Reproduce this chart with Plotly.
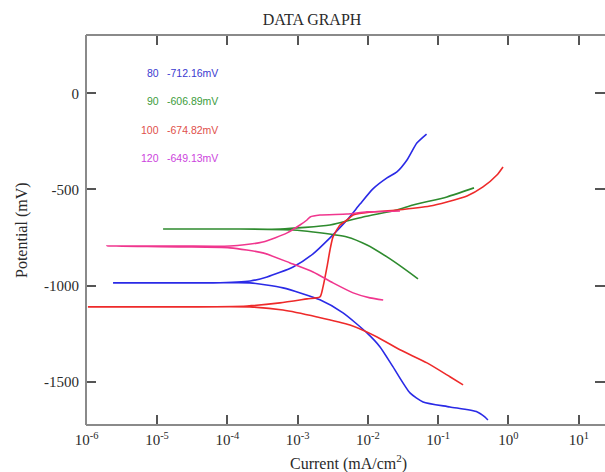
import plotly.graph_objects as go

# Polarization curves: current density (mA/cm^2) vs potential (mV)
cur_80 = [0.51, 0.46, 0.36, 0.147, 0.061, 0.0397, 0.0228, 0.0149, 0.0097, 0.00443, 0.00208,
          0.00062, 0.00021, 6.3e-5, 7.9e-6, 2.37e-6,
          6.3e-5, 0.000212, 0.000368, 0.000863, 0.00166, 0.00289, 0.00505, 0.00773,
          0.0118, 0.0187, 0.0259, 0.036, 0.0497, 0.0683]
pot_80 = [-1699, -1683, -1657, -1631, -1605, -1558, -1423, -1319, -1246, -1142, -1074,
          -1012, -986, -986, -986, -986,
          -986, -976, -955, -903, -835, -752, -659, -576,
          -497, -440, -409, -347, -259, -212]

cur_90 = [0.0516, 0.0316, 0.0187, 0.00973, 0.00505, 0.00166, 0.00086, 0.000151, 1.22e-5,
          0.000151, 0.000564, 0.00289, 0.00851, 0.0259, 0.0439, 0.133, 0.323]
pot_90 = [-965, -908, -851, -789, -747, -721, -711, -706, -706,
          -706, -706, -685, -643, -607, -581, -539, -492]

cur_100 = [0.226, 0.147, 0.0693, 0.0286, 0.0135, 0.00556, 0.00189, 0.00062, 0.00021, 2.12e-5, 1.04e-6,
           2.12e-5, 0.000191, 0.000562, 0.00136, 0.00208, 0.0023, 0.00262, 0.00289, 0.00319,
           0.00402, 0.00505, 0.00617, 0.00855, 0.0259, 0.0764, 0.133, 0.257, 0.434, 0.685, 0.836]
pot_100 = [-1516, -1474, -1402, -1334, -1267, -1205, -1163, -1127, -1111, -1111, -1111,
           -1111, -1106, -1090, -1069, -1059, -1007, -903, -815, -747,
           -685, -659, -633, -622, -607, -586, -565, -534, -487, -425, -383]

cur_120 = [0.0165, 0.0107, 0.00617, 0.00319, 0.00166, 0.00078, 0.00032, 0.000109, 2.12e-5, 1.94e-6,
           2.12e-5, 0.000109, 0.00032, 0.00071, 0.00108, 0.00136, 0.00151, 0.00208, 0.00505,
           0.00973, 0.0286]
pot_120 = [-1075, -1064, -1038, -986, -929, -882, -830, -804, -799, -794,
           -794, -794, -773, -726, -685, -659, -643, -633, -628, -617, -612]

series = [
    ("80", "-712.16mV", cur_80, pot_80, "#2a2ae6", "#3a3ad0"),
    ("90", "-606.89mV", cur_90, pot_90, "#2e8b2e", "#3c9c3c"),
    ("100", "-674.82mV", cur_100, pot_100, "#ee2a2a", "#e0504a"),
    ("120", "-649.13mV", cur_120, pot_120, "#f0368e", "#cc44dd"),
]

x_tick_vals = [1e-6, 1e-5, 1e-4, 1e-3, 1e-2, 1e-1, 1e0, 1e1]
x_tick_text = ["10<sup>-6</sup>", "10<sup>-5</sup>", "10<sup>-4</sup>", "10<sup>-3</sup>",
               "10<sup>-2</sup>", "10<sup>-1</sup>", "10<sup>0</sup>", "10<sup>1</sup>"]
y_tick_vals = [0, -500, -1000, -1500]
y_tick_text = ["0", "-500", "-1000", "-1500"]

serif = "Liberation Serif, Times New Roman, serif"
sans = "Liberation Sans, Arial, sans-serif"
W, H = 605, 472
L, R, T, B = 86, 605, 35, 425
axis_grey = "#8a8a8a"
tick_grey = "#555"
text_dark = "#2a2a2a"

fig = go.Figure()
for name, ecorr, cur, pot, line_col, text_col in series:
    fig.add_trace(go.Scatter(x=cur, y=pot, mode="lines", name=name,
                             line=dict(color=line_col, width=1.6, shape="spline", smoothing=0.6)))

# Legend-style labels: temperature and corrosion potential
row_y = [73, 101, 130, 158]
for (name, ecorr, cur, pot, line_col, text_col), yp in zip(series, row_y):
    py = (B - yp) / (B - T)
    fig.add_annotation(x=(161 - L) / (R - L), y=py, xref="paper", yref="paper",
                       text=name, showarrow=False, xanchor="right", yanchor="middle",
                       font=dict(family=sans, size=10.5, color=text_col))
    fig.add_annotation(x=(165 - L) / (R - L), y=py, xref="paper", yref="paper",
                       text=ecorr, showarrow=False, xanchor="left", yanchor="middle",
                       font=dict(family=sans, size=10.5, color=text_col))

# Axis titles
fig.add_annotation(x=(348 - L) / (R - L), y=-(462 - B) / (B - T), xref="paper", yref="paper",
                   text="Current (mA/cm<sup>2</sup>)", showarrow=False,
                   xanchor="center", yanchor="middle",
                   font=dict(family=serif, size=16, color=text_dark))
fig.add_annotation(x=-(L - 22) / (R - L), y=0.5, xref="paper", yref="paper",
                   text="Potential (mV)", showarrow=False, textangle=-90,
                   xanchor="center", yanchor="middle",
                   font=dict(family=serif, size=16, color=text_dark))

# Frame: left, top and bottom lines (the right side runs off the page)
for x0, y0, x1, y1 in [(0, 0, 0, 1), (0, 1, 1, 1), (0, 0, 1, 0)]:
    fig.add_shape(type="line", xref="paper", yref="paper", x0=x0, y0=y0, x1=x1, y1=y1,
                  line=dict(color=axis_grey, width=2))

fig.update_layout(
    width=W, height=H,
    margin=dict(l=L, r=0, t=T, b=H - B),
    paper_bgcolor="white", plot_bgcolor="white",
    showlegend=False,
    title=dict(text="DATA GRAPH", x=312 / W, xref="container", xanchor="center",
               y=1 - 19 / H, yref="container", yanchor="middle",
               font=dict(family=serif, size=16, color=text_dark)),
    xaxis=dict(type="log", range=[-6.01, 1.373], tickvals=x_tick_vals, ticktext=x_tick_text,
               ticks="inside", ticklen=10, tickwidth=2, tickcolor=tick_grey,
               showline=False, mirror="ticks",
               showgrid=False, zeroline=False,
               tickfont=dict(family=serif, size=15, color=text_dark),
               ticklabelstandoff=4),
    yaxis=dict(range=[-1725, 303], tickvals=y_tick_vals, ticktext=y_tick_text,
               ticks="inside", ticklen=10, tickwidth=2, tickcolor=tick_grey,
               showline=False, mirror="ticks",
               showgrid=False, zeroline=False,
               tickfont=dict(family=serif, size=15, color=text_dark),
               ticklabelstandoff=6),
)

fig.write_html("out.html")
